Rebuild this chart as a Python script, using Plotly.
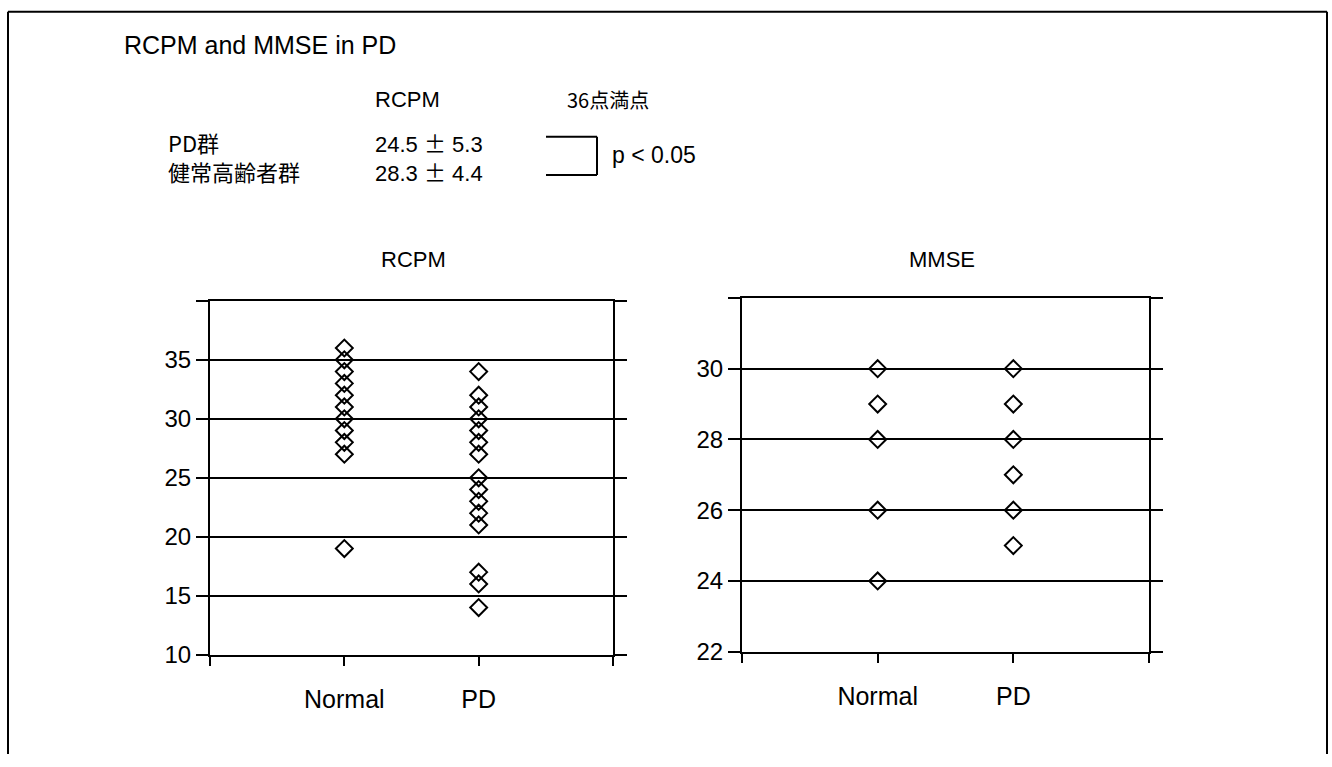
import plotly.graph_objects as go

# Figure size in pixels
W, H = 1332, 767

# Scores per group
groups = ["Normal", "PD"]
rcpm_normal = [36, 35, 34, 33, 32, 31, 30, 29, 28, 27, 19]
rcpm_pd = [34, 32, 31, 30, 29, 28, 27, 25, 24, 23, 22, 21, 17, 16, 14]
mmse_normal = [30, 29, 28, 26, 24]
mmse_pd = [30, 29, 28, 27, 26, 25]

# Axis ticks
rcpm_ticks = [10, 15, 20, 25, 30, 35, 40]
rcpm_ticktext = ["10", "15", "20", "25", "30", "35", ""]
mmse_ticks = [22, 24, 26, 28, 30, 32]
mmse_ticktext = ["22", "24", "26", "28", "30", ""]
x_ticktext = ["", "Normal", "PD", ""]

# Summary table
summary_header = ["RCPM", "36点満点"]
summary_rows = ["PD群", "健常高齢者群"]
summary_mean = ["24.5", "28.3"]
summary_sd = ["5.3", "4.4"]
p_text = "p < 0.05"

FONT = "Liberation Sans, Arial, Noto Sans CJK JP, sans-serif"
CJK = "Noto Sans CJK JP, Liberation Sans, sans-serif"


def px(x):
    return x / W


def py(y):
    return 1 - y / H


pos = {g: i + 1 for i, g in enumerate(groups)}

marker = dict(symbol="diamond-open", size=13, color="black",
              line=dict(width=2, color="black"))

fig = go.Figure()
for vals, g in [(rcpm_normal, "Normal"), (rcpm_pd, "PD")]:
    fig.add_trace(go.Scatter(x=[pos[g]] * len(vals), y=vals, mode="markers",
                             marker=marker, xaxis="x", yaxis="y",
                             showlegend=False, hoverinfo="y"))
for vals, g in [(mmse_normal, "Normal"), (mmse_pd, "PD")]:
    fig.add_trace(go.Scatter(x=[pos[g]] * len(vals), y=vals, mode="markers",
                             marker=marker, xaxis="x2", yaxis="y2",
                             showlegend=False, hoverinfo="y"))


def xaxis(domain, anchor):
    return dict(domain=domain, anchor=anchor, range=[0, 3],
                tickmode="array", tickvals=[0, 1, 2, 3], ticktext=x_ticktext,
                ticks="outside", ticklen=9, tickwidth=2, tickcolor="black",
                ticklabelstandoff=12,
                showline=True, mirror=True, linewidth=2, linecolor="black",
                showgrid=False, zeroline=False,
                tickfont=dict(family=FONT, size=25, color="black"))


def yaxis(domain, anchor, rng, tv, tt):
    return dict(domain=domain, anchor=anchor, range=rng,
                tickmode="array", tickvals=tv, ticktext=tt,
                ticks="outside", ticklen=12, tickwidth=1.5, tickcolor="black",
                showline=True, mirror="ticks", linewidth=2, linecolor="black",
                showgrid=True, gridcolor="black", gridwidth=1.5,
                zeroline=False,
                tickfont=dict(family=FONT, size=24, color="black"))


annotations = []


def text(x, y, s, size=22, family=FONT, anchor="left"):
    annotations.append(dict(x=px(x), y=py(y), xref="paper", yref="paper",
                            text=s, showarrow=False, xanchor=anchor,
                            yanchor="middle", align="left",
                            font=dict(family=family, size=size, color="black")))


pm = "<span style='font-family:Noto Sans CJK JP'>±</span>"
values = "<br>".join(f"{m} {pm} {s}" for m, s in zip(summary_mean, summary_sd))

text(122, 46, "RCPM and MMSE in PD", size=25)
text(373, 101, summary_header[0], size=22)
text(565, 101, summary_header[1], size=20, family=CJK)
text(166, 159, "<br>".join(summary_rows), size=22, family=CJK)
text(373, 159, values, size=22)
text(610, 158, p_text, size=23)
text(413, 264, "RCPM", anchor="center")
text(942, 264, "MMSE", anchor="center")

line = dict(color="black", width=2)


def seg(x0, y0, x1, y1):
    return dict(type="line", xref="paper", yref="paper",
                x0=px(x0), x1=px(x1), y0=py(y0), y1=py(y1), line=line)


shapes = [
    # outer frame (open at the bottom)
    seg(8, 12, 1327, 12),
    seg(8, 12, 8, 767),
    seg(1327, 12, 1327, 767),
    # bracket
    seg(546, 139, 597, 139),
    seg(597, 139, 597, 178),
    seg(546, 178, 597, 178),
]

fig.update_layout(
    width=W, height=H,
    margin=dict(l=0, r=0, t=0, b=0),
    paper_bgcolor="white", plot_bgcolor="rgba(0,0,0,0)",
    xaxis=xaxis([px(210), px(613)], "y"),
    yaxis=yaxis([py(666), py(306)], "x", [10, 40], rcpm_ticks, rcpm_ticktext),
    xaxis2=xaxis([px(742), px(1149)], "y2"),
    yaxis2=yaxis([py(663), py(303)], "x2", [22, 32], mmse_ticks, mmse_ticktext),
    annotations=annotations,
    shapes=shapes,
)

fig.write_html("out.html")
